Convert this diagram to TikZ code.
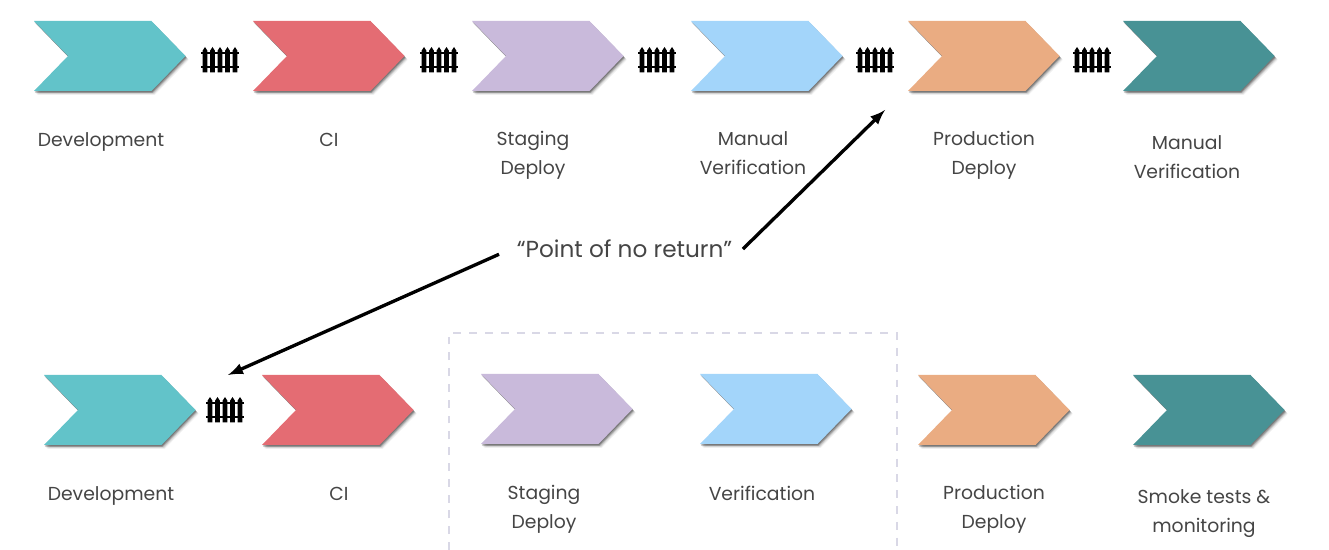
\documentclass[tikz,border=0pt]{standalone}
\usepackage{fontspec}
\setmainfont{Poppins}
\usetikzlibrary{arrows,shadows,positioning}
\definecolor{cDev}{HTML}{62C3C9}
\definecolor{cCi}{HTML}{E46C73}
\definecolor{cStaging}{HTML}{C9BADB}
\definecolor{cVerify}{HTML}{A3D5FA}
\definecolor{cProd}{HTML}{EAAC82}
\definecolor{cSmoke}{HTML}{489295}
\definecolor{cText}{HTML}{454545}
\definecolor{cBox}{HTML}{D9D8E6}
\tikzset{
	softshadow/.style={
		drop shadow={shadow xshift=0.3pt,shadow yshift=-0.6pt,opacity=0.22,fill=black},
		drop shadow={shadow xshift=0.7pt,shadow yshift=-1.0pt,opacity=0.2,fill=black},
		drop shadow={shadow xshift=1.1pt,shadow yshift=-1.4pt,opacity=0.14,fill=black},
		drop shadow={shadow xshift=1.5pt,shadow yshift=-1.8pt,opacity=0.08,fill=black},
		drop shadow={shadow xshift=1.9pt,shadow yshift=-2.2pt,opacity=0.05,fill=black}},
	lbl/.style={font=\fontsize{10.7}{16.4}\selectfont,text=cText,align=center,anchor=north,inner sep=0pt,execute at begin node=\strut},
	note/.style={font=\fontsize{13.2}{16.4}\selectfont,text=cText,inner sep=0pt,minimum width=134.4pt,minimum height=20pt},
	pointer/.style={-latex,line width=1.9pt,black},
	chevron/.pic={
		\fill[#1,softshadow] (0,0) -- (117.5,0) -- (151.5,35) -- (117.5,70) -- (0,70) -- (34,35) -- cycle;
	},
	fence/.pic={
		\fill[black] (-19,-8) rectangle (19,-5.6);
		\fill[black] (-19,5.6) rectangle (19,8);
		\foreach \p in {-15,-7.5,0,7.5,15}
			\fill[black] (\p-2.3,-9.5) -- (\p,-13) -- (\p+2.3,-9.5) -- (\p+2.3,12.5) -- (\p-2.3,12.5) -- cycle;
	}
}
\begin{document}
\begin{tikzpicture}[x=0.02cm,y=-0.02cm]
	\useasboundingbox (0,0) rectangle (1329,550);
	% top row
	\pic (topDev) at (34,21) {chevron=cDev};
	\pic (topCi) at (253,21) {chevron=cCi};
	\pic (topStaging) at (472,21) {chevron=cStaging};
	\pic (topVerify) at (691,21) {chevron=cVerify};
	\pic (topProd) at (908,21) {chevron=cProd};
	\pic (topCheck) at (1123,21) {chevron=cSmoke};
	\foreach \x in {220,439,657,875,1092}
		\pic at (\x,60) {fence};
	\node[lbl] (lblDevA) at (101,125.5) {Development};
	\node[lbl] (lblCiA) at (329,125.5) {CI};
	\node[lbl] (lblStagingA) at (533,131) {Staging\\Deploy};
	\node[lbl] (lblVerifyA) at (753,131) {Manual\\Verification};
	\node[lbl] (lblProdA) at (984,131) {Production\\Deploy};
	\node[lbl] (lblCheckA) at (1187,135) {Manual\\Verification};
	% bottom row
	\draw[cBox,line width=0.9pt,dash pattern=on 4.5pt off 4.5pt] (449,550) -- (449,333) -- (897,333) -- (897,550);
	\pic (botDev) at (44,375) {chevron=cDev};
	\pic (botCi) at (262,375) {chevron=cCi};
	\pic (botStaging) at (481,374) {chevron=cStaging};
	\pic (botVerify) at (700,374) {chevron=cVerify};
	\pic (botProd) at (918,375) {chevron=cProd};
	\pic (botSmoke) at (1133,375) {chevron=cSmoke};
	\pic at (225,410) {fence};
	\node[lbl] (lblDevB) at (111,479.5) {Development};
	\node[lbl] (lblCiB) at (339,479.5) {CI};
	\node[lbl] (lblStagingB) at (544,485) {Staging\\Deploy};
	\node[lbl] (lblVerifyB) at (762,479.5) {Verification};
	\node[lbl] (lblProdB) at (994,485) {Production\\Deploy};
	\node[lbl] (lblSmokeB) at (1204,489) {Smoke tests \&\\monitoring};
	% point of no return
	\node[note] (noReturn) at (624.5,249) {“Point of no return”};
	\coordinate (gateTop) at (885,110);
	\coordinate (gateBot) at (228,375);
	\draw[pointer] (noReturn.east) -- (gateTop);
	\draw[pointer] ([xshift=-4pt,yshift=-3pt]noReturn.west) -- (gateBot);
\end{tikzpicture}
\end{document}
